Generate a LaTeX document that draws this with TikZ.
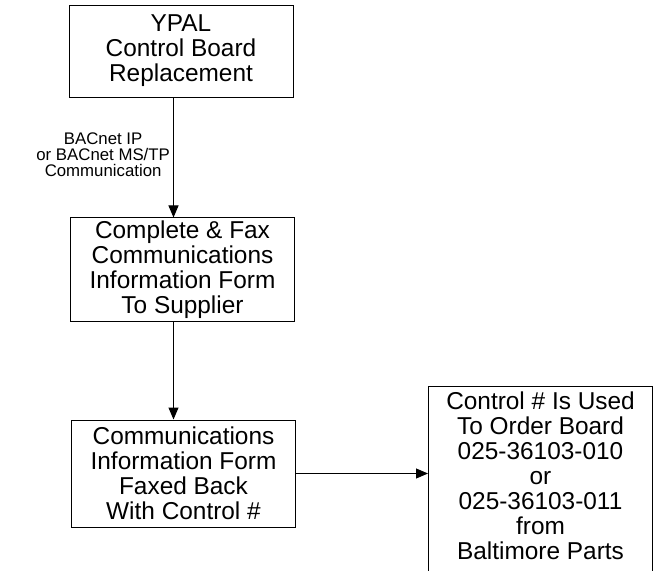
\documentclass[tikz,border=0pt]{standalone}
\usepackage{fontspec}
\setmainfont{Liberation Sans}
\usetikzlibrary{arrows.meta}

\begin{document}
\begin{tikzpicture}
		[x=0.75pt,y=-0.75pt,line width=0.75pt,
		%Styles
		stepbox/.style={draw,align=center,inner sep=2pt,minimum width=168pt,
			font=\fontsize{18.3}{18.75}\selectfont},
		flow/.style={-{Triangle[length=9pt,width=7.5pt]}},
		side text/.style={align=center,font=\fontsize{12.6}{12}\selectfont}
		]
		
		%The graphic
		\useasboundingbox (0,0) rectangle (654,571);
		\clip (0,0) rectangle (654,571);
		
		\node[stepbox,minimum height=69pt] (ypal) at (181,51)
			{YPAL\\Control Board\\Replacement};
		\node[stepbox,minimum height=77.25pt] (fax) at (182.5,269.5)
			{Complete \& Fax\\Communications\\Information Form\\To Supplier};
		\node[stepbox,minimum height=80.25pt] (back) at (183.5,473.5)
			{Communications\\Information Form\\Faxed Back\\With Control \#};
		\node[stepbox,anchor=north,inner ysep=4pt] (order) at (540.5,386)
			{Control \# Is Used\\To Order Board\\025-36103-010\\or\\025-36103-011\\from\\Baltimore Parts\rule[-30pt]{0pt}{30pt}};
		
		\coordinate (down) at (173.5,0);
		
		\draw[flow] (ypal.south -| down) -- node[side text,left,xshift=1pt,yshift=2pt]
			{BACnet IP\\or BACnet MS/TP\\Communication} (fax.north -| down);
		\draw[flow] (fax.south -| down) -- (back.north -| down);
		\draw[flow] (back.east) -- (back.east -| order.west);
	\end{tikzpicture}
\end{document}
